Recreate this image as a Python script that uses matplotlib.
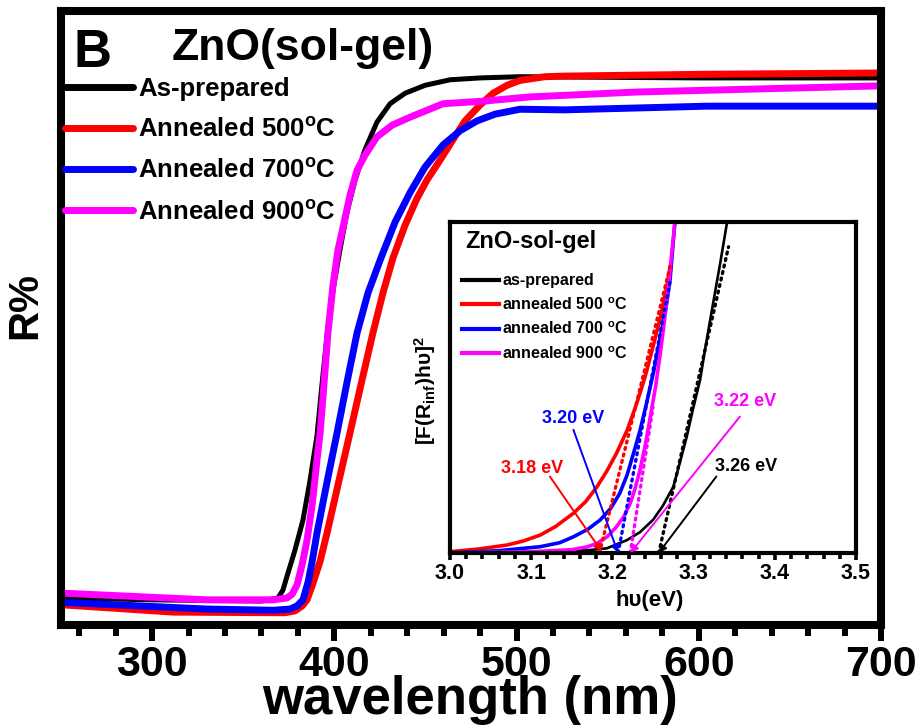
import matplotlib
matplotlib.use("Agg")
import matplotlib.pyplot as plt
from matplotlib.ticker import MultipleLocator, NullLocator

plt.rcParams['font.family'] = ['Liberation Sans', 'DejaVu Sans']
plt.rcParams['font.weight'] = 'bold'
plt.rcParams['mathtext.fontset'] = 'custom'
plt.rcParams['mathtext.rm'] = 'Liberation Sans:bold'
plt.rcParams['mathtext.bf'] = 'Liberation Sans:bold'
plt.rcParams['mathtext.it'] = 'Liberation Sans:bold'
plt.rcParams['mathtext.default'] = 'bf'

# ---------------- main reflectance data ----------------
wl_black = [250, 300, 360, 369.1, 371.8, 374.6, 378.4, 382.8, 386.7, 390.5, 393.2, 396.0,
            399.3, 403.1, 407.0, 411.4, 416.8, 423.4, 430.6, 438.8, 449.8, 463.5, 480.0,
            501.9, 600, 699]
r_black = [4.4, 4.1, 3.9, 4.4, 5.7, 8.5, 12.2, 17.1, 23.6, 30.9, 39.1, 47.2,
           54.6, 61.1, 67.3, 72.5, 77.4, 81.9, 84.9, 86.6, 87.9, 88.8, 89.1,
           89.3, 89.1, 89.1]

wl_red = [250, 311.5, 366.4, 372.9, 378.4, 382.3, 385.0, 388.3, 392.2, 396.0, 402.0,
          408.6, 415.2, 421.2, 426.7, 432.2, 438.8, 445.4, 450.9, 458.0, 464.6, 471.7,
          480.0, 487.1, 494.8, 501.9, 515.6, 526.1, 604.6, 698.4]
r_red = [3.3, 2.1, 2.0, 2.0, 2.3, 3.1, 4.1, 6.8, 10.4, 15.0, 22.8,
         31.3, 39.9, 47.6, 54.1, 59.8, 65.1, 69.5, 72.5, 75.7, 78.8, 82.1,
         84.7, 86.6, 87.9, 88.7, 89.3, 89.4, 89.7, 89.9]

wl_blue = [250, 330.1, 366.4, 375.7, 379.5, 382.8, 385.6, 387.8, 390.5, 396.0, 401.5,
           407.0, 412.5, 418.5, 425.1, 433.3, 441.5, 449.8, 459.7, 469.0, 478.3, 488.2,
           501.9, 526.1, 604.6, 698.4]
r_blue = [3.7, 2.6, 2.4, 2.6, 3.1, 4.1, 7.0, 10.3, 15.0, 23.3, 31.3,
          39.6, 47.6, 54.1, 59.4, 65.6, 70.4, 74.6, 78.2, 80.5, 82.1, 83.2,
          84.0, 83.9, 84.5, 84.5]

wl_mag = [250, 293.4, 330.1, 366.4, 374.0, 376.8, 379.5, 382.3, 385.0, 387.8, 390.5,
          392.2, 394.3, 396.5, 399.3, 402.0, 404.8, 408.6, 412.5, 416.8, 423.4, 431.7,
          441.5, 459.7, 481.1, 506.9, 565.6, 698.4]
r_mag = [5.2, 4.6, 4.1, 4.1, 4.4, 5.0, 6.5, 9.8, 13.8, 19.5, 26.9,
         31.3, 39.1, 47.6, 55.4, 61.1, 64.8, 70.0, 74.1, 76.5, 79.5, 81.4,
         82.7, 84.9, 85.3, 86.0, 86.8, 87.8]

labels_main = ['As-prepared', 'Annealed 500$^{o}$C', 'Annealed 700$^{o}$C', 'Annealed 900$^{o}$C']
colors = ['black', '#ff0000', '#0000ff', '#ff00ff']

# ---------------- inset Tauc data ----------------
e_black = [3.0, 3.10, 3.172, 3.193, 3.218, 3.234, 3.250, 3.262, 3.275, 3.283, 3.2915,
           3.299, 3.308, 3.315, 3.324, 3.333, 3.341]
k_black = [0.0, 0.003, 0.009, 0.014, 0.039, 0.063, 0.100, 0.142, 0.200, 0.272, 0.351,
           0.432, 0.523, 0.628, 0.754, 0.879, 0.996]
e_red = [3.0, 3.035, 3.07, 3.09, 3.111, 3.13, 3.152, 3.167, 3.181, 3.193, 3.205,
         3.218, 3.230, 3.240, 3.250, 3.259, 3.267, 3.271]
k_red = [0.004, 0.012, 0.024, 0.036, 0.054, 0.08, 0.12, 0.155, 0.2, 0.247, 0.301,
         0.37, 0.452, 0.53, 0.623, 0.71, 0.805, 0.865]
e_blue = [3.0, 3.06, 3.111, 3.135, 3.152, 3.17, 3.185, 3.198, 3.209, 3.218, 3.226,
          3.234, 3.242, 3.251, 3.259, 3.266, 3.271, 3.277]
k_blue = [0.0, 0.007, 0.019, 0.031, 0.049, 0.072, 0.1, 0.135, 0.18, 0.235, 0.301,
          0.37, 0.452, 0.55, 0.653, 0.74, 0.825, 1.0]
e_mag = [3.0, 3.10, 3.15, 3.168, 3.181, 3.194, 3.205, 3.214, 3.222, 3.228, 3.234,
         3.240, 3.246, 3.253, 3.259, 3.264, 3.269, 3.277]
k_mag = [0.0, 0.004, 0.01, 0.018, 0.029, 0.05, 0.079, 0.11, 0.15, 0.195, 0.251,
         0.32, 0.402, 0.5, 0.603, 0.7, 0.805, 1.0]

# linear fits (dotted)
fit_black = ([3.257, 3.343], [0.0, 0.925])
fit_red = ([3.184, 3.271], [0.0, 0.865])
fit_blue = ([3.207, 3.271], [0.0, 0.82])
fit_mag = ([3.222, 3.250], [0.0, 0.44])

gap_labels = ['3.26 eV', '3.18 eV', '3.20 eV', '3.22 eV']
gap_text_pos = [(3.365, 0.261), (3.101, 0.256), (3.152, 0.407), (3.363, 0.457)]
gap_tail = [(3.328, 0.231), (3.123, 0.231), (3.152, 0.372), (3.357, 0.412)]
gap_head = [(3.257, 0.0), (3.187, 0.004), (3.207, 0.0), (3.222, 0.0)]

labels_inset = ['as-prepared', 'annealed 500 $^{o}$C', 'annealed 700 $^{o}$C', 'annealed 900 $^{o}$C']

# ---------------- figure ----------------
fig = plt.figure(figsize=(9.2, 7.26), dpi=100)
ax = fig.add_axes([61/920, 1-625/726, 820/920, 614/726])

ax.plot(wl_black, r_black, color=colors[0], lw=3.6, label=labels_main[0],
        solid_capstyle='round', solid_joinstyle='round')
ax.plot(wl_red, r_red, color=colors[1], lw=5, label=labels_main[1],
        solid_capstyle='round', solid_joinstyle='round')
ax.plot(wl_blue, r_blue, color=colors[2], lw=5, label=labels_main[2],
        solid_capstyle='round', solid_joinstyle='round')
ax.plot(wl_mag, r_mag, color=colors[3], lw=5, label=labels_main[3],
        solid_capstyle='round', solid_joinstyle='round')

ax.set_xlim(250, 700)
ax.set_ylim(0, 100)
ax.xaxis.set_major_locator(MultipleLocator(100))
ax.xaxis.set_minor_locator(MultipleLocator(20))
ax.yaxis.set_major_locator(NullLocator())
ax.tick_params(axis='x', which='major', direction='out', length=11.5, width=4.3, pad=3,
               labelsize=31)
ax.tick_params(axis='x', which='minor', direction='out', length=8, width=4.3)
for s in ax.spines.values():
    s.set_linewidth(5.8)
for lab in ax.get_xticklabels():
    lab.set_fontweight('bold')

ax.set_xlabel('wavelength (nm)', fontsize=38, fontweight='bold')
ax.xaxis.set_label_coords(0.499, -0.081)
ax.set_ylabel('R%', fontsize=30, fontweight='bold')
ax.yaxis.set_label_coords(-0.019, 0.52)

ax.text(0.015, 0.909, 'B', transform=ax.transAxes, fontsize=38, fontweight='bold', va='baseline')
ax.text(0.135, 0.920, 'ZnO(sol-gel)', transform=ax.transAxes, fontsize=32, fontweight='bold',
        va='baseline')

leg = ax.legend(loc='upper left', bbox_to_anchor=(0.005, 0.893), frameon=False,
                fontsize=18.5, handlelength=2.65, handletextpad=0.2, labelspacing=0.67,
                borderpad=0, borderaxespad=0)
for h in leg.get_lines():
    h.set_linewidth(5)
    h.set_solid_capstyle('round')

# ---------------- inset ----------------
axi = fig.add_axes([450/920, 1-553/726, 406/920, 331/726])
axi.set_zorder(5)
axi.plot(e_black, k_black, color=colors[0], lw=1.9, label=labels_inset[0])
axi.plot(e_red, k_red, color=colors[1], lw=2.6, label=labels_inset[1])
axi.plot(e_blue, k_blue, color=colors[2], lw=2.6, label=labels_inset[2])
axi.plot(e_mag, k_mag, color=colors[3], lw=2.6, label=labels_inset[3])

for (fx, fy), c in zip([fit_black, fit_red, fit_blue, fit_mag], colors):
    axi.plot(fx, fy, color=c, lw=2.4, ls=(0, (0.6, 1.4)), dash_capstyle='round')

for lab, tp, tl, hd, c in zip(gap_labels, gap_text_pos, gap_tail, gap_head, colors):
    axi.annotate('', xy=hd, xytext=tl,
                 arrowprops=dict(arrowstyle='-|>', color=c, lw=1.4, mutation_scale=11,
                                 shrinkA=0, shrinkB=0))
    axi.text(tp[0], tp[1], lab, color=c, fontsize=13, fontweight='bold',
             ha='center', va='center')

axi.set_xlim(3.0, 3.5)
axi.set_ylim(0, 1.0)
axi.xaxis.set_major_locator(MultipleLocator(0.1))
axi.xaxis.set_minor_locator(MultipleLocator(0.02))
axi.yaxis.set_major_locator(NullLocator())
axi.tick_params(axis='x', which='major', direction='out', length=5, width=2.6, pad=2,
                labelsize=15.5)
axi.tick_params(axis='x', which='minor', direction='out', length=4, width=2.6)
for s in axi.spines.values():
    s.set_linewidth(3)
axi.set_xlabel('hυ(eV)', fontsize=16, fontweight='bold')
axi.xaxis.set_label_coords(0.493, -0.112)
axi.set_ylabel('[F(R$_{inf}$)hυ]$^{2}$', fontsize=15, fontweight='bold')
axi.yaxis.set_label_coords(-0.03, 0.49)

axi.text(0.037, 0.94, 'ZnO-sol-gel', transform=axi.transAxes, fontsize=17,
         fontweight='bold', va='center')
legi = axi.legend(loc='upper left', bbox_to_anchor=(0.03, 0.845), frameon=False,
                  fontsize=11.5, handlelength=2.3, handletextpad=0.2, labelspacing=0.49,
                  borderpad=0, borderaxespad=0)
for h in legi.get_lines():
    h.set_linewidth(3)

fig.savefig('out.png', dpi=100, facecolor='white')
